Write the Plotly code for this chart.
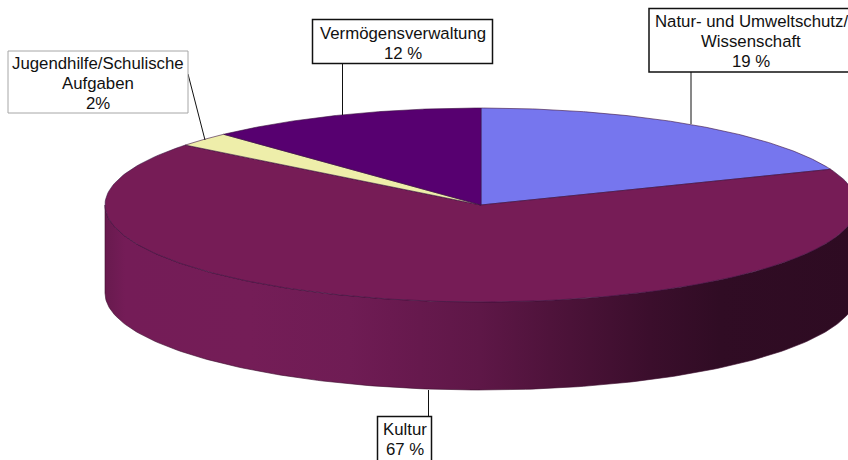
import numpy as np
import plotly.graph_objects as go

# Datos del gráfico (las etiquetas redondean: 19 / 67 / 2 / 12)
categories = ['Natur- und Umweltschutz/<br>Wissenschaft', 'Kultur', 'Jugendhilfe/Schulische<br>Aufgaben', 'Vermögensverwaltung']
shares = [19.0, 66.6, 2.4, 12.0]
share_labels = ['19 %', '67 %', '2%', '12 %']

# Estilo por porción
slice_colors = ['#7676ee', '#761c56', '#eeeeaa', '#570070']
box_colors = ['#111111', '#111111', '#a6a6a6', '#111111']
box_widths = [1.5, 1.5, 1, 1.5]

# Geometría de la elipse en píxeles
CX, CY, RX, RY, DEPTH = 481, 205, 376, 97, 88
W, H = 848, 460
LINE_GAP = 20

# Caja de cada etiqueta: x0, y0, x1, y1
label_boxes = [(649, 8.5, 860, 72), (377.5, 416.5, 431.5, 470), (8, 51, 188, 113), (312.5, 19.5, 492.5, 63.5)]
label_centers = [(751, 41), (405, 439), (98, 83), (403, 43)]
leaders = [((691, 72), (691, 124)), ((428.5, 390), (428.5, 416)), ((188, 74), (205, 140)), ((342.5, 64), (342.5, 115))]

wall_stops = [(105, '#681a4e'), (125, '#741c57'), (250, '#741d57'), (350, '#6f1c54'), (390, '#6a1a50'),
              (480, '#5e1747'), (550, '#4f133b'), (650, '#3b0e2c'), (720, '#300c24'), (857, '#2e0b22')]


def rim(frac):
    # frac: fracción de vuelta en sentido horario desde las 12
    a = 2 * np.pi * np.asarray(frac)
    return CX + RX * np.sin(a), CY - RY * np.cos(a)


fig = go.Figure()

# Pared frontal con degradado horizontal
fx = np.linspace(0.25, 0.75, 200)
wx, wy = rim(fx)
span = wall_stops[-1][0] - wall_stops[0][0]
fig.add_trace(go.Scatter(
    x=list(wx) + list(wx[::-1]), y=list(wy) + list((wy + DEPTH)[::-1]),
    mode='lines', fill='toself', line=dict(color='#3c0e2e', width=0.6),
    fillgradient=dict(type='horizontal', start=wall_stops[0][0], stop=wall_stops[-1][0],
                      colorscale=[[(x - wall_stops[0][0]) / span, c] for x, c in wall_stops]),
))

# Cara superior
cum = np.cumsum([0] + shares) / sum(shares)
for i, color in enumerate(slice_colors):
    fr = np.linspace(cum[i], cum[i + 1], 200)
    sx, sy = rim(fr)
    fig.add_trace(go.Scatter(
        x=[CX] + list(sx) + [CX], y=[CY] + list(sy) + [CY],
        mode='lines', fill='toself', fillcolor=color,
        line=dict(color='#3a1040', width=0.6),
    ))

# Líneas guía
for (a, b) in leaders:
    fig.add_shape(type='line', x0=a[0], y0=a[1], x1=b[0], y1=b[1], line=dict(color='#111111', width=1))

# Cajas y textos (una anotación por renglón para fijar el interlineado)
for i, name in enumerate(categories):
    x0, y0, x1, y1 = label_boxes[i]
    fig.add_shape(type='rect', x0=x0, y0=y0, x1=x1, y1=y1, fillcolor='white',
                  line=dict(color=box_colors[i], width=box_widths[i]))
    rows = name.split('<br>') + [share_labels[i]]
    for j, row in enumerate(rows):
        fig.add_annotation(x=label_centers[i][0], y=label_centers[i][1] + (j - (len(rows) - 1) / 2) * LINE_GAP,
                           xref='x', yref='y', text=row, showarrow=False, align='center',
                           font=dict(family='Liberation Sans', size=16.8, color='#111111'))

fig.update_xaxes(range=[0, W], visible=False, fixedrange=True)
fig.update_yaxes(range=[H, 0], visible=False, fixedrange=True)
fig.update_layout(width=W, height=H, margin=dict(l=0, r=0, t=0, b=0), showlegend=False,
                  plot_bgcolor='white', paper_bgcolor='white', hovermode=False)

fig.write_html('out.html', config=dict(displayModeBar=False),
               post_script="document.body.style.margin='0';")
